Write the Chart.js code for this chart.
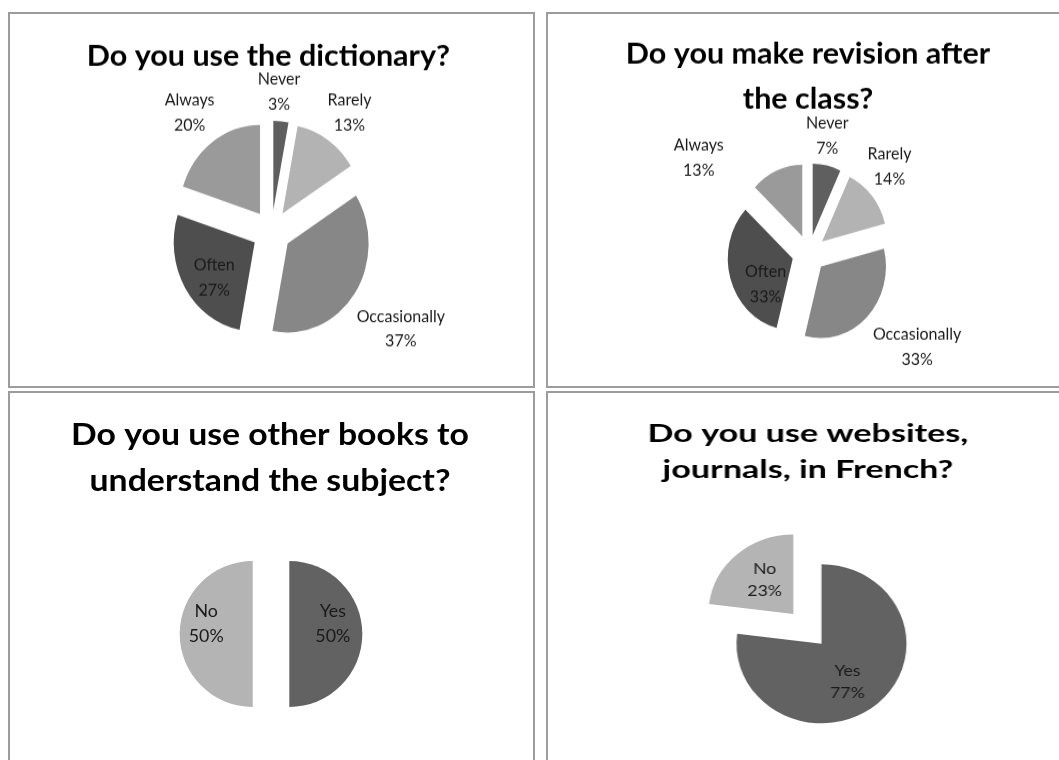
<!DOCTYPE html>
<html>
<head>
<meta charset="utf-8">
<title>Student survey</title>
<script src="https://cdn.jsdelivr.net/npm/chart.js@4.4.0/dist/chart.umd.min.js"></script>
<style>
  body { margin: 0; background: #fff; width: 1059px; height: 760px; overflow: hidden; position: relative; }
  .frame { position: absolute; box-sizing: border-box; width: 527px; height: 376px; border: 2px solid #9c9c9c; }
  canvas { position: absolute; }
</style>
</head>
<body>
<div class="frame" style="left:8px;top:12px"></div>
<div class="frame" style="left:546px;top:12px"></div>
<div class="frame" style="left:8px;top:391px"></div>
<div class="frame" style="left:546px;top:391px"></div>
<!-- each canvas keeps its own pixel size and is stretched by its inline css size -->
<canvas id="dictCanvas" width="525" height="340" style="left:9px;top:13px;width:525px;height:374px"></canvas>
<canvas id="revisionCanvas" width="525" height="340" style="left:547px;top:13px;width:525px;height:374px"></canvas>
<canvas id="booksCanvas" width="525" height="374" style="left:9px;top:392px;width:525px;height:374px"></canvas>
<canvas id="webCanvas" width="491" height="374" style="left:547px;top:392px;width:525px;height:374px"></canvas>

<script>
// answers in percent
const freqLabels = ['Never', 'Rarely', 'Occasionally', 'Often', 'Always'];
const dictionaryValues = [3, 13, 37, 27, 20];
const revisionValues = [7, 14, 33, 33, 13];

const yesNoLabels = ['Yes', 'No'];
const otherBooksValues = [50, 50];
const websitesValues = [77, 23];

const freqColors = ['#5f5f5f', '#b3b3b3', '#878787', '#4e4e4e', '#9a9a9a'];
const yesNoColors = ['#626262', '#b4b4b4'];

const dictTitle = ['Do you use the dictionary?'];
const revisionTitle = ['Do you make revision after', 'the class?'];
const booksTitle = ['Do you use other books to', 'understand the subject?'];
const webTitle = ['Do you use websites,', 'journals, in French?'];

function pieCenter(chart) {
    const a = chart.chartArea;
    return { x: (a.left + a.right) / 2, y: (a.top + a.bottom) / 2 };
}

// pull each slice straight out along its middle angle (the built-in offset
// also trims the slice angle, which makes the cut edges lean)
const explodeSlices = {
    id: 'explodeSlices',
    beforeDatasetsDraw(chart, args, opts) {
        const c = pieCenter(chart);
        chart.getDatasetMeta(0).data.forEach((arc, i) => {
            const mid = (arc.startAngle + arc.endAngle) / 2;
            arc.x = c.x + Math.cos(mid) * opts.px[i];
            arc.y = c.y + Math.sin(mid) * opts.px[i];
        });
    }
};

function drawLine(ctx, text, x, y, stretch) {
    ctx.save();
    ctx.translate(x, y);
    ctx.scale(stretch, 1);
    ctx.fillText(text, 0, 0);
    ctx.restore();
}

// title lines, y is the baseline of the first line
const panelTitle = {
    id: 'panelTitle',
    afterDraw(chart, args, opts) {
        const ctx = chart.ctx;
        ctx.save();
        ctx.fillStyle = '#000';
        ctx.font = 'bold ' + opts.size + 'px Lato';
        ctx.textAlign = 'center';
        ctx.textBaseline = 'alphabetic';
        opts.lines.forEach((line, i) => drawLine(ctx, line, opts.x, opts.y + i * opts.gap, opts.stretch));
        ctx.restore();
    }
};

// "Name / NN%" label for each slice, placed along the slice's middle angle
const sliceLabels = {
    id: 'sliceLabels',
    afterDatasetsDraw(chart, args, opts) {
        const ctx = chart.ctx;
        const meta = chart.getDatasetMeta(0);
        const values = chart.data.datasets[0].data;
        const radius = meta.controller.outerRadius;
        const c = pieCenter(chart);
        const capMid = opts.size * 0.358;
        ctx.save();
        ctx.fillStyle = '#1a1a1a';
        ctx.font = opts.size + 'px Lato';
        ctx.textAlign = 'center';
        ctx.textBaseline = 'alphabetic';
        meta.data.forEach((arc, i) => {
            const mid = (arc.startAngle + arc.endAngle) / 2 + opts.shift[i] * Math.PI / 180;
            const r = radius * opts.dist[i];
            const x = c.x + Math.cos(mid) * r;
            const y = c.y + Math.sin(mid) * r + capMid;
            drawLine(ctx, chart.data.labels[i], x, y - opts.gap / 2, opts.stretch);
            drawLine(ctx, values[i] + '%', x, y + opts.gap / 2, opts.stretch);
        });
        ctx.restore();
    }
};

function makePie(canvasId, labels, values, colors, cfg) {
    return new Chart(document.getElementById(canvasId), {
        type: 'pie',
        data: {
            labels: labels,
            datasets: [{
                data: values,
                backgroundColor: colors,
                borderWidth: 0,
                radius: cfg.radius
            }]
        },
        options: {
            responsive: false,
            animation: false,
            layout: { padding: cfg.padding },
            plugins: {
                legend: { display: false },
                tooltip: { enabled: false },
                explodeSlices: { px: cfg.explode },
                panelTitle: cfg.title,
                sliceLabels: cfg.labels
            }
        },
        plugins: [explodeSlices, panelTitle, sliceLabels]
    });
}

makePie('dictCanvas', freqLabels, dictionaryValues, freqColors, {
    radius: 81,
    explode: [19.5, 19.5, 19.5, 19.5, 19.5],
    padding: { top: 57 },
    title: { lines: dictTitle, x: 259.4, y: 47.6, gap: 41, size: 27, stretch: 1.13 },
    labels: { size: 16, stretch: 1, gap: 22.7, dist: [1.58, 1.65, 1.93, 0.87, 1.68], shift: [-2, 1.5, 0, -5, -1] }
});

makePie('revisionCanvas', freqLabels, revisionValues, freqColors, {
    radius: 65,
    explode: [16.9, 16.9, 16.9, 16.9, 16.9],
    padding: { top: 97, right: 1 },
    title: { lines: revisionTitle, x: 261, y: 45.7, gap: 40.9, size: 27, stretch: 1.13 },
    labels: { size: 16, stretch: 1, gap: 22.7, dist: [1.68, 1.74, 2.11, 0.79, 2.17], shift: [-3, -5, -7, -16, -28] }
});

makePie('booksCanvas', yesNoLabels, otherBooksValues, yesNoColors, {
    radius: 73,
    explode: [18.3, 18.3],
    padding: { top: 110, right: 1 },
    title: { lines: booksTitle, x: 261, y: 53.4, gap: 45.5, size: 31, stretch: 1.09 },
    labels: { size: 16.5, stretch: 1.08, gap: 25, dist: [0.86, 0.9], shift: [-10, 9.5] }
});

makePie('webCanvas', yesNoLabels, websitesValues, yesNoColors, {
    radius: 79.5,
    explode: [0, 39.8],
    padding: { top: 129.6, left: 22.4 },
    title: { lines: webTitle, x: 244, y: 49.7, gap: 36.6, size: 25.5, stretch: 1.25 },
    labels: { size: 15, stretch: 1.1, gap: 22, dist: [0.567, 1.05], shift: [8.8, 1.8] }
});
</script>
</body>
</html>
